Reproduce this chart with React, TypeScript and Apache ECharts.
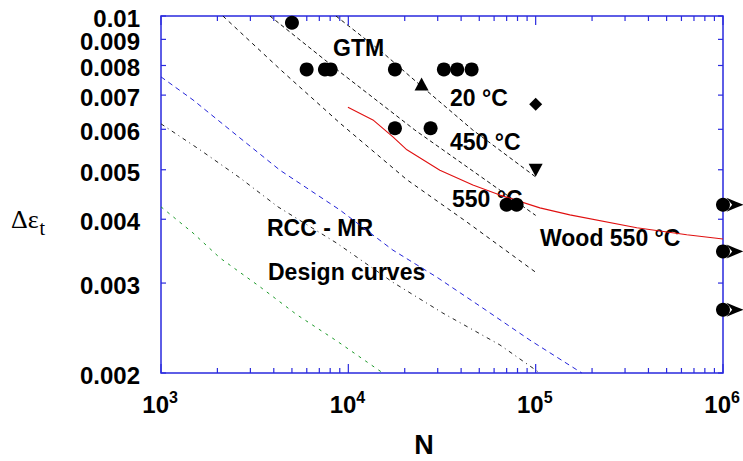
import React, { useEffect, useRef } from "react";
import * as echarts from "echarts";

// ---------------- data (N cycles, total strain range) ----------------
const circleCycles = [5000, 5990, 7500, 8050, 17730, 32360, 38120, 45500, 17730, 27480, 69940, 79100];
const circleStrain = [0.0097, 0.00786, 0.00786, 0.00786, 0.00786, 0.00786, 0.00786, 0.00786, 0.00603, 0.00603, 0.00427, 0.00427];

const triUpCycles = [24600];
const triUpStrain = [0.00736];

const diamondCycles = [100000];
const diamondStrain = [0.00672];

const triDownCycles = [100000];
const triDownStrain = [0.00499];

const runoutCycles = [1000000, 1000000, 1000000];
const runoutStrain = [0.00427, 0.00346, 0.00266];

const fit20C_N = [8590, 15300, 24100, 46200, 100000];
const fit20C_S = [0.01, 0.00847, 0.00733, 0.00598, 0.00484];

const fit450C_N = [3815, 9020, 22660, 100000];
const fit450C_S = [0.01, 0.00777, 0.00598, 0.00407];

const fit550C_N = [2140, 4480, 9020, 20540, 42930, 100000];
const fit550C_S = [0.01, 0.00777, 0.00617, 0.00478, 0.00395, 0.00315];

const wood_N = [9950, 13530, 17300, 20540, 30810, 46220, 64420, 105300, 152200, 346700, 640700, 1000000];
const wood_S = [0.00663, 0.00626, 0.0058, 0.00547, 0.00499, 0.00467, 0.00446, 0.00421, 0.00408, 0.00385, 0.00373, 0.00366];

const rccBlue_N = [1000, 1482, 2640, 4315, 9020, 17300, 29700, 52260, 93100, 176400];
const rccBlue_S = [0.0076, 0.00685, 0.00577, 0.00499, 0.00417, 0.00348, 0.00308, 0.00268, 0.00232, 0.002];

const rccBlack_N = [1000, 1615, 2640, 4211, 8690, 17300, 31970, 64420, 105300];
const rccBlack_S = [0.00615, 0.00547, 0.00482, 0.00423, 0.00359, 0.00301, 0.00262, 0.00227, 0.002];

const rccGreen_N = [1000, 1482, 2064, 3375, 5318, 8690, 13870, 15300];
const rccGreen_S = [0.00423, 0.00376, 0.00336, 0.00295, 0.0026, 0.00231, 0.00205, 0.002];

// axis ticks
const X_MIN = 1000;
const X_MAX = 1000000;
const Y_MIN = 0.002;
const Y_MAX = 0.01;
const xMajorTicks = [1000, 10000, 100000, 1000000];
const xExponents = ["3", "4", "5", "6"];
const xMinorMultipliers = [2, 3, 4, 5, 6, 7, 8, 9];
const yTicks = [0.002, 0.003, 0.004, 0.005, 0.006, 0.007, 0.008, 0.009, 0.01];
const yTickLabels = ["0.002", "0.003", "0.004", "0.005", "0.006", "0.007", "0.008", "0.009", "0.01"];

// ---------------- styling ----------------
const FONT = "'Liberation Sans', Arial, Helvetica, sans-serif";
const SERIF = "'Liberation Serif', 'Times New Roman', serif";
const AX = "#2a2ade";

const zip = (a: number[], b: number[]) => a.map((v, i) => [v, b[i]]);

const xMinorTicks: number[] = [];
[1000, 10000, 100000].forEach((d) => xMinorMultipliers.forEach((m) => xMinorTicks.push(d * m)));

function xTickRenderer(len: number, withLabel: boolean) {
  return (params: any, api: any) => {
    const x = api.value(0);
    const b = api.coord([x, Y_MIN]);
    const t = api.coord([x, Y_MAX]);
    const children: any[] = [
      { type: "line", shape: { x1: b[0], y1: b[1], x2: b[0], y2: b[1] - len }, style: { stroke: AX, lineWidth: 1.2 } },
      { type: "line", shape: { x1: t[0], y1: t[1], x2: t[0], y2: t[1] + len }, style: { stroke: AX, lineWidth: 1.2 } },
    ];
    if (withLabel) {
      children.push({
        type: "text",
        x: b[0] + 8,
        y: b[1] + 31,
        style: { text: "10", align: "right", verticalAlign: "middle", fontSize: 24, fontWeight: "bold", fontFamily: FONT, fill: "#000" },
      });
      children.push({
        type: "text",
        x: b[0] + 8,
        y: b[1] + 24,
        style: { text: xExponents[params.dataIndex], align: "left", verticalAlign: "middle", fontSize: 16, fontWeight: "bold", fontFamily: FONT, fill: "#000" },
      });
    }
    return { type: "group", children };
  };
}

function yTickRenderer(params: any, api: any) {
  const y = api.value(1);
  const l = api.coord([X_MIN, y]);
  const r = api.coord([X_MAX, y]);
  return {
    type: "group",
    children: [
      { type: "line", shape: { x1: l[0], y1: l[1], x2: l[0] + 5, y2: l[1] }, style: { stroke: AX, lineWidth: 1.2 } },
      { type: "line", shape: { x1: r[0], y1: r[1], x2: r[0] - 5, y2: r[1] }, style: { stroke: AX, lineWidth: 1.2 } },
      {
        type: "text",
        x: l[0] - 21,
        y: l[1] + 2.4,
        style: { text: yTickLabels[params.dataIndex], align: "right", verticalAlign: "middle", fontSize: 24, fontWeight: "bold", fontFamily: FONT, fill: "#000" },
      },
    ],
  };
}

const lineSeries = (name: string, N: number[], S: number[], color: string, dash: any, width = 1) => ({
  name,
  type: "line",
  data: zip(N, S),
  showSymbol: false,
  symbol: "none",
  smooth: false,
  silent: true,
  lineStyle: { color, width, type: dash },
  z: 2,
});

const marker = (name: string, N: number[], S: number[], symbol: string, size: any, extra: any = {}) => ({
  name,
  type: "scatter",
  data: zip(N, S),
  symbol,
  symbolSize: size,
  itemStyle: { color: "#000", opacity: 1 },
  clip: false,
  silent: true,
  z: 5,
  ...extra,
});

const annot = (text: string, x: number, y: number) => ({
  type: "text",
  x,
  y,
  silent: true,
  style: { text, align: "left", verticalAlign: "middle", fontSize: 23, fontWeight: "bold", fontFamily: FONT, fill: "#000" },
});

const option: any = {
  animation: false,
  backgroundColor: "#fff",
  grid: { left: 161, top: 16, right: 20, bottom: 88, show: true, borderColor: AX, borderWidth: 1.5, backgroundColor: "transparent" },
  xAxis: {
    type: "log",
    logBase: 10,
    min: X_MIN,
    max: X_MAX,
    axisLine: { show: false },
    axisTick: { show: false },
    axisLabel: { show: false },
    splitLine: { show: false },
  },
  yAxis: {
    type: "log",
    logBase: 10,
    min: Y_MIN,
    max: Y_MAX,
    axisLine: { show: false },
    axisTick: { show: false },
    axisLabel: { show: false },
    splitLine: { show: false },
  },
  series: [
    lineSeries("RCC-MR green", rccGreen_N, rccGreen_S, "#1d9a2a", [3, 5]),
    lineSeries("RCC-MR blue", rccBlue_N, rccBlue_S, "#2323d8", [5, 4]),
    lineSeries("RCC-MR black", rccBlack_N, rccBlack_S, "#222", [4, 4, 1, 4]),
    lineSeries("550 °C", fit550C_N, fit550C_S, "#111", [4, 4]),
    lineSeries("450 °C", fit450C_N, fit450C_S, "#111", [4, 3]),
    lineSeries("20 °C", fit20C_N, fit20C_S, "#111", [4, 3]),
    lineSeries("Wood 550 °C", wood_N, wood_S, "#e01010", "solid", 1.1),
    marker("tests", circleCycles, circleStrain, "circle", 14),
    marker("tri up", triUpCycles, triUpStrain, "triangle", [14, 13]),
    marker("diamond", diamondCycles, diamondStrain, "diamond", 13),
    marker("tri down", triDownCycles, triDownStrain, "triangle", [14, 13], { symbolRotate: 180 }),
    marker("runout", runoutCycles, runoutStrain, "circle", 14),
    marker(
      "runout arrow",
      runoutCycles,
      runoutStrain,
      "path://M0,0 L10,4 L18,7 L10,10 L0,14 L6,7 Z",
      [17, 14],
      { symbolOffset: [12, 0] }
    ),
    {
      name: "x major ticks",
      type: "custom",
      data: xMajorTicks.map((v) => [v, Y_MIN]),
      renderItem: xTickRenderer(9, true),
      clip: false,
      silent: true,
      z: 4,
    },
    {
      name: "x minor ticks",
      type: "custom",
      data: xMinorTicks.map((v) => [v, Y_MIN]),
      renderItem: xTickRenderer(5, false),
      clip: false,
      silent: true,
      z: 4,
    },
    {
      name: "y ticks",
      type: "custom",
      data: yTicks.map((v) => [X_MIN, v]),
      renderItem: yTickRenderer,
      clip: false,
      silent: true,
      z: 4,
    },
  ],
  graphic: [
    annot("GTM", 333, 48),
    annot("20 °C", 450, 98),
    annot("450 °C", 450, 142),
    annot("550 °C", 452, 199),
    annot("Wood 550 °C", 540, 238),
    annot("RCC - MR", 267, 228),
    annot("Design curves", 268, 272),
    {
      type: "text",
      x: 424,
      y: 445,
      silent: true,
      style: { text: "N", align: "center", verticalAlign: "middle", fontSize: 27, fontWeight: "bold", fontFamily: FONT, fill: "#000" },
    },
    {
      type: "text",
      x: 11,
      y: 219,
      silent: true,
      style: { text: "Δε", align: "left", verticalAlign: "middle", fontSize: 26, fontFamily: SERIF, fill: "#000" },
    },
    {
      type: "text",
      x: 39.5,
      y: 228,
      silent: true,
      style: { text: "t", align: "left", verticalAlign: "middle", fontSize: 20, fontFamily: SERIF, fill: "#000" },
    },
  ],
};

export default function App() {
  const ref = useRef<HTMLDivElement>(null);
  useEffect(() => {
    const chart = echarts.init(ref.current as HTMLDivElement, null, { renderer: "svg" });
    chart.setOption(option);
    return () => chart.dispose();
  }, []);
  return (
    <div
      ref={ref}
      style={{ position: "fixed", left: 0, top: 0, width: 743, height: 461, background: "#fff" }}
    />
  );
}
